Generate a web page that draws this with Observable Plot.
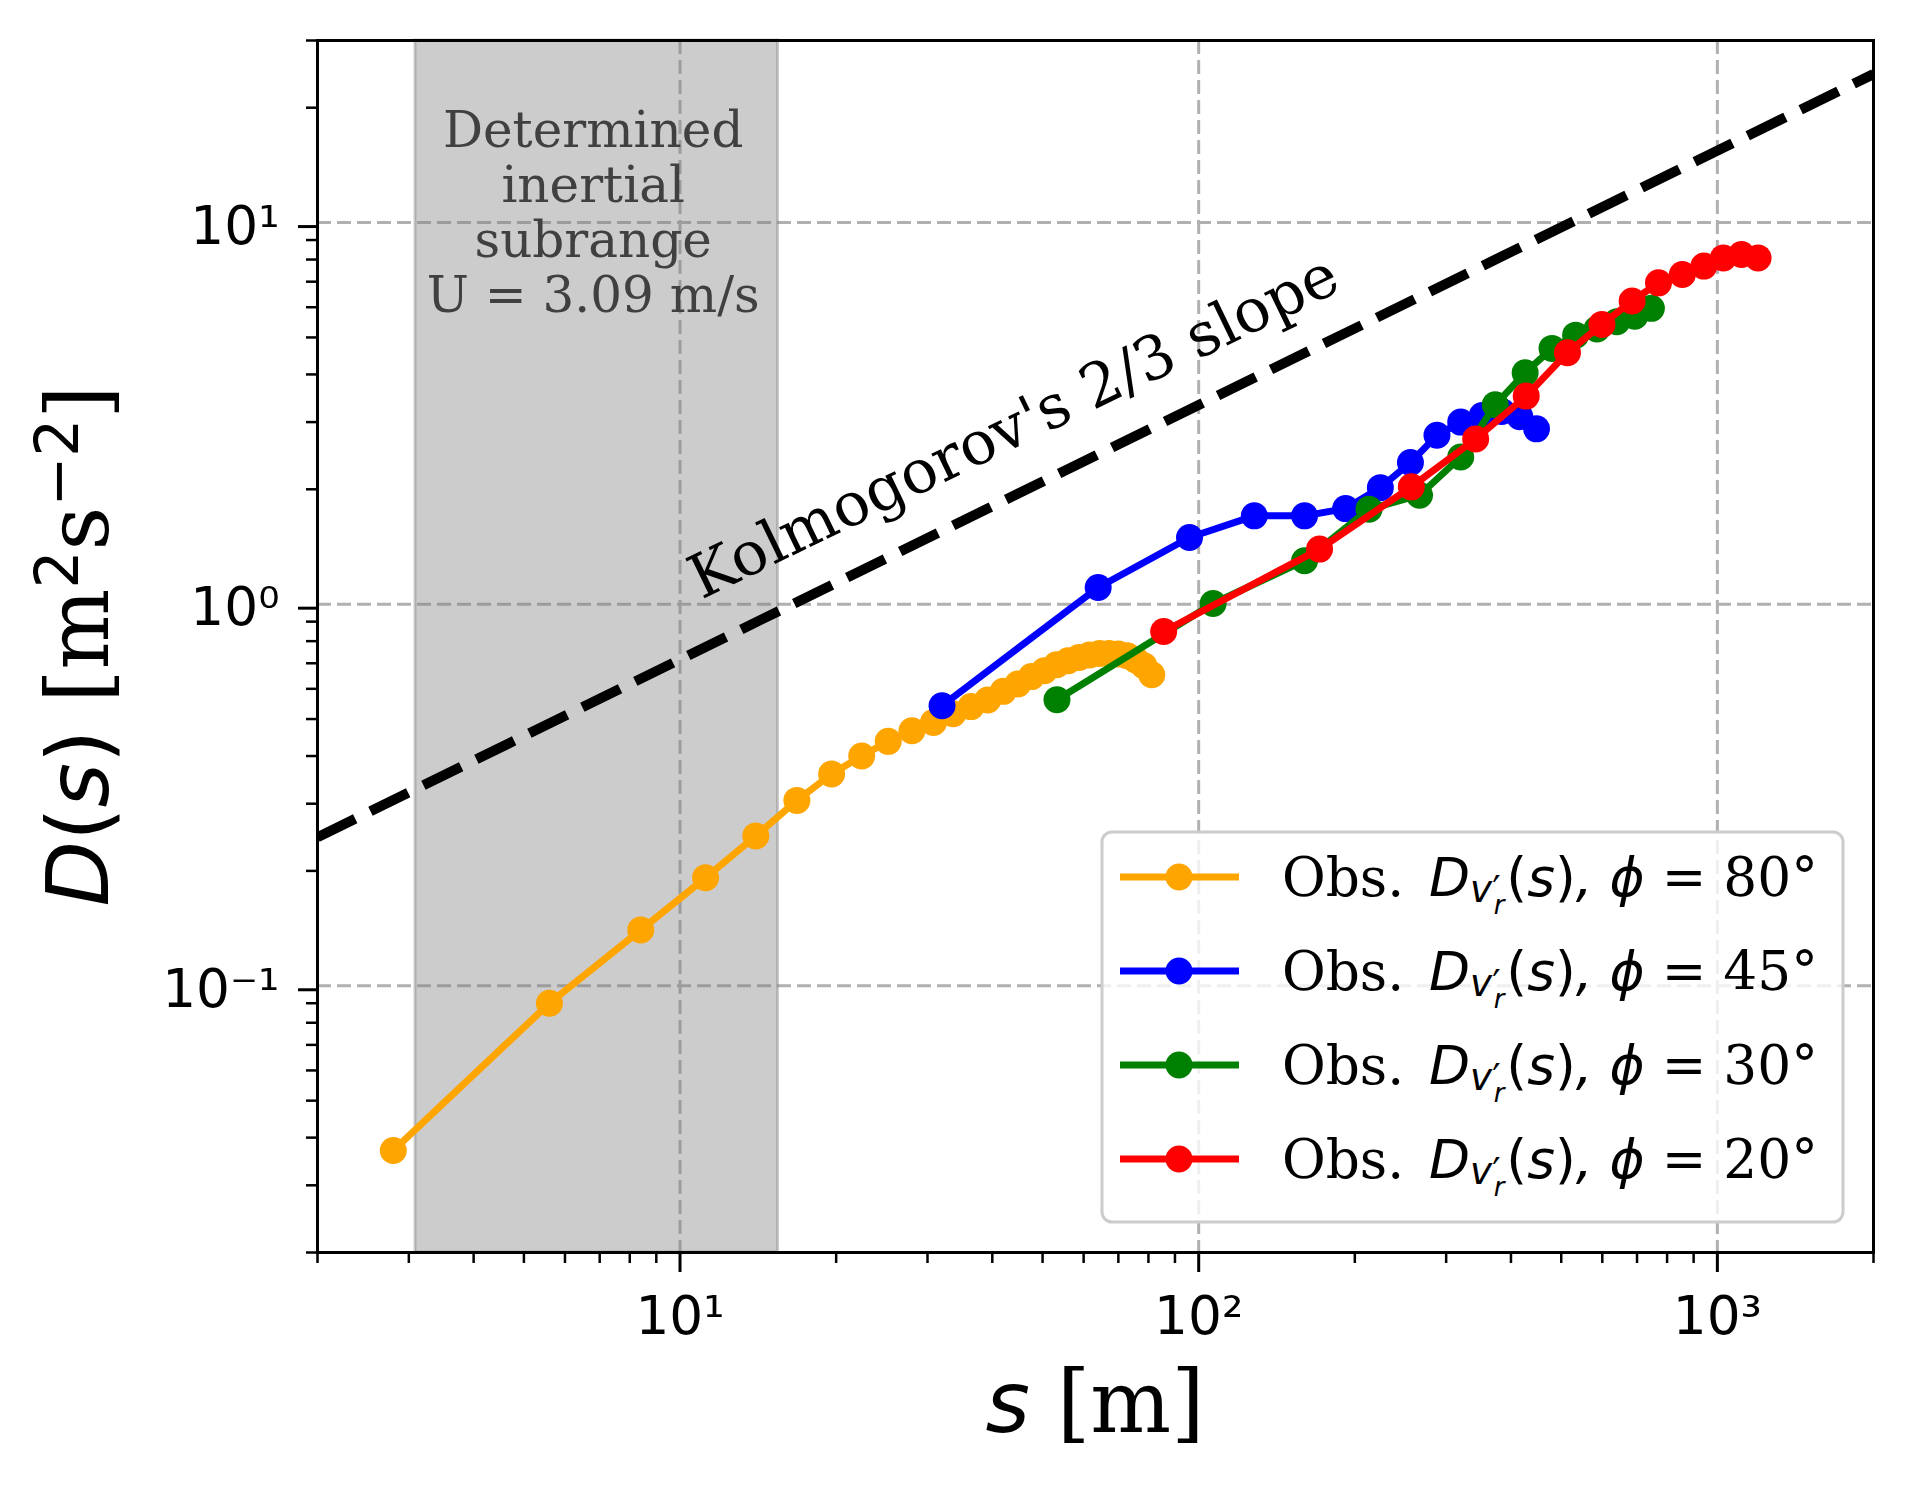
<!DOCTYPE html>
<html>
<head>
<meta charset="utf-8">
<script src="https://cdn.jsdelivr.net/npm/d3@7"></script>
<script src="https://cdn.jsdelivr.net/npm/@observablehq/plot@0.6"></script>
<style>
  html, body { margin: 0; padding: 0; background: #ffffff; }
  #chart { width: 1914px; height: 1490px; }
</style>
</head>
<body>
<div id="chart"></div>
<script>
// ---------------- data ----------------
const orangeS = [2.8, 5.6, 8.4, 11.2, 14.0, 16.8, 19.6, 22.4, 25.2, 28.0, 30.8, 33.6, 36.4, 39.2, 42.0,
                 44.8, 47.6, 50.4, 53.2, 56.0, 58.8, 61.6, 64.4, 67.2, 70.0, 72.8, 75.6, 78.4, 81.2];
const orangeD = [0.037, 0.090, 0.140, 0.192, 0.247, 0.306, 0.359, 0.400, 0.437, 0.466, 0.490, 0.516, 0.539, 0.561, 0.591,
                 0.618, 0.646, 0.669, 0.694, 0.711, 0.725, 0.736, 0.743, 0.743, 0.740, 0.733, 0.714, 0.690, 0.653];

const blueS = [32, 64, 96, 128, 160, 192, 224, 256, 288, 320, 352, 384, 416, 448];
const blueD = [0.542, 1.106, 1.495, 1.704, 1.704, 1.78, 2.02, 2.35, 2.77, 3.0, 3.12, 3.2, 3.1, 2.88];

const greenS = [53.3, 106.6, 160, 213, 266.5, 320, 373, 426, 480, 533, 586, 640, 693, 746];
const greenD = [0.562, 1.004, 1.30, 1.774, 1.93, 2.43, 3.33, 4.04, 4.68, 5.07, 5.26, 5.5, 5.68, 5.96];

const redS = [85.6, 171, 257, 342, 428, 514, 599, 685, 770, 856, 942, 1027, 1113, 1198];
const redD = [0.848, 1.394, 2.03, 2.71, 3.51, 4.56, 5.41, 6.23, 6.95, 7.31, 7.69, 8.08, 8.25, 8.08];

// Kolmogorov 2/3 reference line (end points)
const kolS = [2, 2000];
const kolD = [0.245, 24.5];

// inertial subrange band
const bandS = [3.09, 15.45];

const phiLabels = ["80", "45", "30", "20"];
const seriesColors = ["#FFA500", "#0000FF", "#008000", "#FF0000"];

// tick values
const xMajor = [10, 100, 1000];
const xMinor = [2, 3, 4, 5, 6, 7, 8, 9, 20, 30, 40, 50, 60, 70, 80, 90, 200, 300, 400, 500, 600, 700, 800, 900, 2000];
const yMajor = [0.1, 1, 10];
const yMinor = [0.02, 0.03, 0.04, 0.05, 0.06, 0.07, 0.08, 0.09, 0.2, 0.3, 0.4, 0.5, 0.6, 0.7, 0.8, 0.9,
                2, 3, 4, 5, 6, 7, 8, 9, 20, 30];

const bandText = "Determined\ninertial\nsubrange\nU = 3.09 m/s";
const kolText = "Kolmogorov's 2/3 slope";

// ---------------- build ----------------
const W = 1914, H = 1490;
const mL = 317, mT = 40, mR = 41, mB = 238;

const series = [
  {s: orangeS, d: orangeD},
  {s: blueS, d: blueD},
  {s: greenS, d: greenD},
  {s: redS, d: redD}
].map((o, i) => ({rows: o.s.map((s, j) => ({s, D: o.d[j]})), color: seriesColors[i], phi: phiLabels[i]}));

const supMap = {"-": "\u207B", "0": "\u2070", "1": "\u00B9", "2": "\u00B2", "3": "\u00B3"};
const fmtPow = d => "10" + String(Math.round(Math.log10(d))).split("").map(c => supMap[c]).join("");

const dataMarks = [];
for (const ser of series) {
  dataMarks.push(Plot.line(ser.rows, {x: "s", y: "D", stroke: ser.color, strokeWidth: 7}));
  dataMarks.push(Plot.dot(ser.rows, {x: "s", y: "D", r: 13.5, fill: ser.color, stroke: null}));
}

const plot = Plot.plot({
  width: W, height: H,
  marginLeft: mL, marginTop: mT, marginRight: mR, marginBottom: mB,
  style: {fontFamily: "DejaVu Sans", background: "white", color: "black"},
  x: {type: "log", domain: [2, 2000]},
  y: {type: "log", domain: [0.02, 30]},
  marks: [
    Plot.gridX(xMajor, {stroke: "#b0b0b0", strokeOpacity: 1, strokeWidth: 3, strokeDasharray: "14,6"}),
    Plot.gridY(yMajor, {stroke: "#b0b0b0", strokeOpacity: 1, strokeWidth: 3, strokeDasharray: "14,6"}),
    Plot.rect([{a: bandS[0], b: bandS[1]}], {x1: "a", x2: "b", fill: "gray", fillOpacity: 0.4,
      stroke: "gray", strokeOpacity: 0.4, strokeWidth: 3}),
    Plot.text([bandText], {x: () => 6.8, y: () => 20, text: d => d, fontFamily: "DejaVu Serif",
      fontSize: 50, lineHeight: 1.1, textAnchor: "middle", lineAnchor: "top", fill: "#404040"}),
    Plot.line(kolS.map((s, i) => ({s, D: kolD[i]})), {x: "s", y: "D", stroke: "black", strokeWidth: 10,
      strokeDasharray: "42,17", strokeLinecap: "butt", clip: true}),
    Plot.text([kolText], {x: () => 44.0, y: () => 2.91, text: d => d, rotate: -25.8, fontFamily: "DejaVu Serif",
      fontSize: 60.5, textAnchor: "middle", lineAnchor: "middle", fill: "black"}),
    ...dataMarks,
    Plot.axisX(xMinor, {tickSize: 11, strokeWidth: 2.5, tickFormat: () => "", label: null}),
    Plot.axisX(xMajor, {tickSize: 20, strokeWidth: 3, tickPadding: 24, fontSize: 53.3, tickFormat: fmtPow, label: null}),
    Plot.axisY(yMinor, {tickSize: 11, strokeWidth: 2.5, tickFormat: () => "", label: null}),
    Plot.axisY(yMajor, {tickSize: 19, strokeWidth: 3, tickPadding: 19, fontSize: 53.3, tickFormat: fmtPow, label: null, dy: 4}),
    Plot.frame({stroke: "black", strokeWidth: 3})
  ]
});

document.getElementById("chart").appendChild(plot);
const svgEl = plot.tagName.toLowerCase() === "svg" ? plot : plot.querySelector("svg");
const svg = d3.select(svgEl);

const SANS = "DejaVu Sans", SERIF = "DejaVu Serif";
function addSpan(t, txt, opts = {}) {
  const sp = t.append("tspan").text(txt)
    .attr("font-family", opts.serif ? SERIF : SANS)
    .attr("font-style", opts.italic ? "italic" : "normal");
  if (opts.size) sp.attr("font-size", opts.size);
  if (opts.dy) sp.attr("dy", opts.dy);
  if (opts.dx) sp.attr("dx", opts.dx);
  return sp;
}

// ---- y axis label:  D(s) [m^2 s^-2]
const plotH = H - mT - mB, plotW = W - mL - mR;
const yl = svg.append("text")
  .attr("transform", `translate(108,${mT + plotH / 2}) rotate(-90)`)
  .attr("text-anchor", "middle").attr("font-size", 85.3).attr("fill", "black");
addSpan(yl, "D", {italic: true});
addSpan(yl, "(");
addSpan(yl, "s", {italic: true});
addSpan(yl, ")");
addSpan(yl, " [m", {serif: true});
addSpan(yl, "2", {size: 59.7, dy: -30});
addSpan(yl, "s", {serif: true, size: 85.3, dy: 30});
addSpan(yl, "\u22122", {size: 59.7, dy: -30});
addSpan(yl, "]", {serif: true, size: 85.3, dy: 30});

// ---- x axis label:  s [m]
const xl = svg.append("text")
  .attr("transform", `translate(${mL + plotW / 2},1432)`)
  .attr("text-anchor", "middle").attr("font-size", 85.3).attr("fill", "black");
addSpan(xl, "s", {italic: true});
addSpan(xl, " [m]", {serif: true});

// ---- legend (lower right inside axes)
const legW = 741, legH = 390, pad = 30;
const legX = W - mR - pad - legW, legY = H - mB - pad - legH;
const lg = svg.append("g").attr("transform", `translate(${legX},${legY})`);
lg.append("rect").attr("x", 0).attr("y", 0).attr("width", legW).attr("height", legH).attr("rx", 10)
  .attr("fill", "white").attr("fill-opacity", 0.8).attr("stroke", "#cccccc").attr("stroke-width", 3);
series.forEach((ser, i) => {
  const cy = 45 + 94 * i;
  lg.append("line").attr("x1", 18).attr("x2", 137).attr("y1", cy).attr("y2", cy)
    .attr("stroke", ser.color).attr("stroke-width", 7);
  lg.append("circle").attr("cx", 77).attr("cy", cy).attr("r", 13.5).attr("fill", ser.color);
  const t = lg.append("text").attr("x", 180).attr("y", cy + 19).attr("font-size", 53.3)
    .attr("text-anchor", "start").attr("fill", "black");
  addSpan(t, "Obs. ", {serif: true});
  addSpan(t, "D", {italic: true, dx: 8});
  addSpan(t, "v", {italic: true, size: 37.3, dy: 6});
  addSpan(t, "\u2032", {size: 37.3});
  addSpan(t, "r", {italic: true, size: 26, dy: 12, dx: -7});
  addSpan(t, "(", {size: 53.3, dy: -18, dx: 2});
  addSpan(t, "s", {italic: true});
  addSpan(t, ")");
  addSpan(t, ", ", {italic: true});
  addSpan(t, "\u03D5", {italic: true});
  addSpan(t, " = " + ser.phi + "\u00B0", {serif: true});
});
</script>
</body>
</html>
